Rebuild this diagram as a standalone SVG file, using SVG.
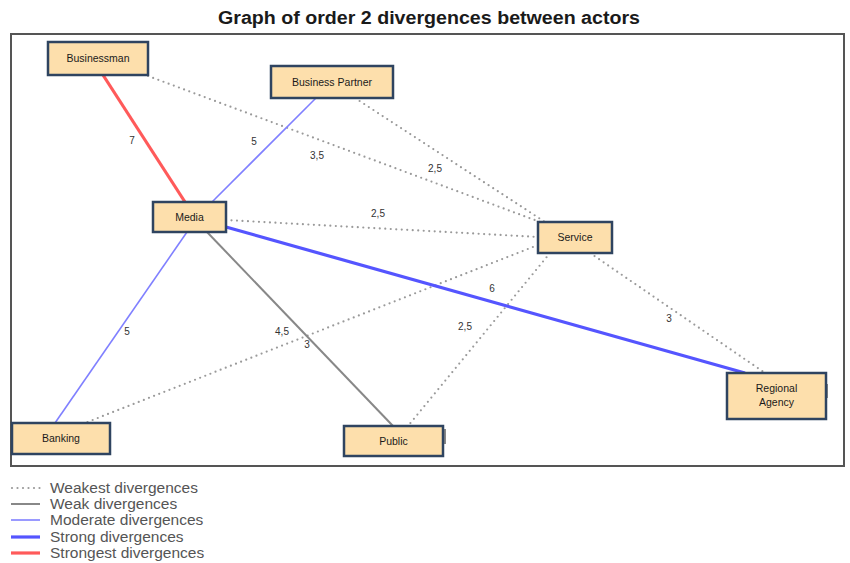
<svg xmlns="http://www.w3.org/2000/svg" width="850" height="563" viewBox="0 0 850 563">
  <style>
    .title { font-family: "Liberation Sans", Arial, sans-serif; font-size: 18px; font-weight: bold; fill: #1a1a1a; }
    .node rect { fill: #FDDFAC; stroke: #2F4460; stroke-width: 2.5; }
    .node text { font-family: "Liberation Sans", Arial, sans-serif; font-size: 10.5px; fill: #1a1a1a; text-anchor: middle; }
    .weakest { stroke: #9a9a9a; stroke-width: 2.2; stroke-dasharray: 0 5.5; stroke-linecap: round; fill: none; }
    .weak { stroke: #888; stroke-width: 2; fill: none; }
    .moderate { stroke: #8080FF; stroke-width: 1.6; fill: none; }
    .strong { stroke: #5555FF; stroke-width: 3.2; fill: none; }
    .strongest { stroke: #FF5A5A; stroke-width: 3.2; fill: none; }
    .elabel { font-family: "Liberation Sans", Arial, sans-serif; font-size: 10px; fill: #333; text-anchor: middle; }
    .legend text { font-family: "Liberation Sans", Arial, sans-serif; font-size: 15.5px; fill: #555; }
  </style>

  <rect width="850" height="563" fill="#fff"/>

  <text class="title" x="429" y="24" text-anchor="middle" textLength="422" lengthAdjust="spacingAndGlyphs">Graph of order 2 divergences between actors</text>

  <!-- plot frame -->
  <rect x="11" y="34" width="833" height="432" fill="#fff" stroke="#555" stroke-width="2"/>

  <!-- connectors -->
  <g id="connectors">
    <line class="weakest" x1="148" y1="76" x2="540" y2="222"/>
    <line class="weakest" x1="355" y1="98" x2="545" y2="222"/>
    <line class="weakest" x1="226" y1="220" x2="538" y2="237"/>
    <line class="weakest" x1="590" y1="253" x2="765" y2="373"/>
    <line class="weakest" x1="550" y1="253" x2="408" y2="426"/>
    <line class="weakest" x1="538" y1="245" x2="85" y2="423"/>
    <line class="weak" x1="207" y1="232" x2="393" y2="426"/>
    <line class="moderate" x1="316" y1="98" x2="212" y2="202"/>
    <line class="moderate" x1="187" y1="232" x2="55" y2="423"/>
    <line class="strong" x1="226" y1="227" x2="745" y2="373"/>
    <line class="strongest" x1="103" y1="75" x2="185" y2="202"/>

    <text class="elabel" x="132" y="144">7</text>
    <text class="elabel" x="254" y="145">5</text>
    <text class="elabel" x="317" y="159">3,5</text>
    <text class="elabel" x="435" y="172">2,5</text>
    <text class="elabel" x="378" y="217">2,5</text>
    <text class="elabel" x="492" y="292">6</text>
    <text class="elabel" x="669" y="322">3</text>
    <text class="elabel" x="127" y="335">5</text>
    <text class="elabel" x="282" y="335">4,5</text>
    <text class="elabel" x="307" y="348">3</text>
    <text class="elabel" x="465" y="330">2,5</text>
  </g>

  <!-- actors -->
  <g id="businessman" class="node">
    <rect x="48" y="42" width="100" height="33"/>
    <text x="98" y="62">Businessman</text>
  </g>
  <g id="business-partner" class="node">
    <rect x="271" y="66" width="122" height="32"/>
    <text x="332" y="86">Business Partner</text>
  </g>
  <g id="media" class="node">
    <rect x="153" y="202" width="73" height="30"/>
    <text x="189.5" y="221">Media</text>
  </g>
  <g id="service" class="node">
    <rect x="538" y="222" width="74" height="31"/>
    <text x="575" y="241">Service</text>
  </g>
  <g id="regional-agency" class="node">
    <rect x="826" y="384" width="2" height="14" style="fill:#888;stroke:none"/>
    <rect x="727" y="373" width="99" height="46"/>
    <text x="776.5" y="392">Regional</text>
    <text x="776.5" y="406">Agency</text>
  </g>
  <g id="banking" class="node">
    <rect x="12" y="423" width="98" height="31"/>
    <text x="61" y="442">Banking</text>
  </g>
  <g id="public" class="node">
    <rect x="443" y="429" width="3" height="15" style="fill:#888;stroke:none"/>
    <rect x="344" y="426" width="99" height="30"/>
    <text x="393.5" y="445">Public</text>
  </g>

  <!-- legend -->
  <g class="legend">
    <line class="weakest" x1="12" y1="488" x2="40" y2="488"/>
    <text x="50" y="493">Weakest divergences</text>
    <line class="weak" x1="11" y1="504" x2="40" y2="504"/>
    <text x="50" y="509">Weak divergences</text>
    <line class="moderate" x1="11" y1="520" x2="40" y2="520"/>
    <text x="50" y="525">Moderate divergences</text>
    <line class="strong" x1="11" y1="537" x2="40" y2="537"/>
    <text x="50" y="542">Strong divergences</text>
    <line class="strongest" x1="11" y1="553" x2="40" y2="553"/>
    <text x="50" y="558">Strongest divergences</text>
  </g>
</svg>
